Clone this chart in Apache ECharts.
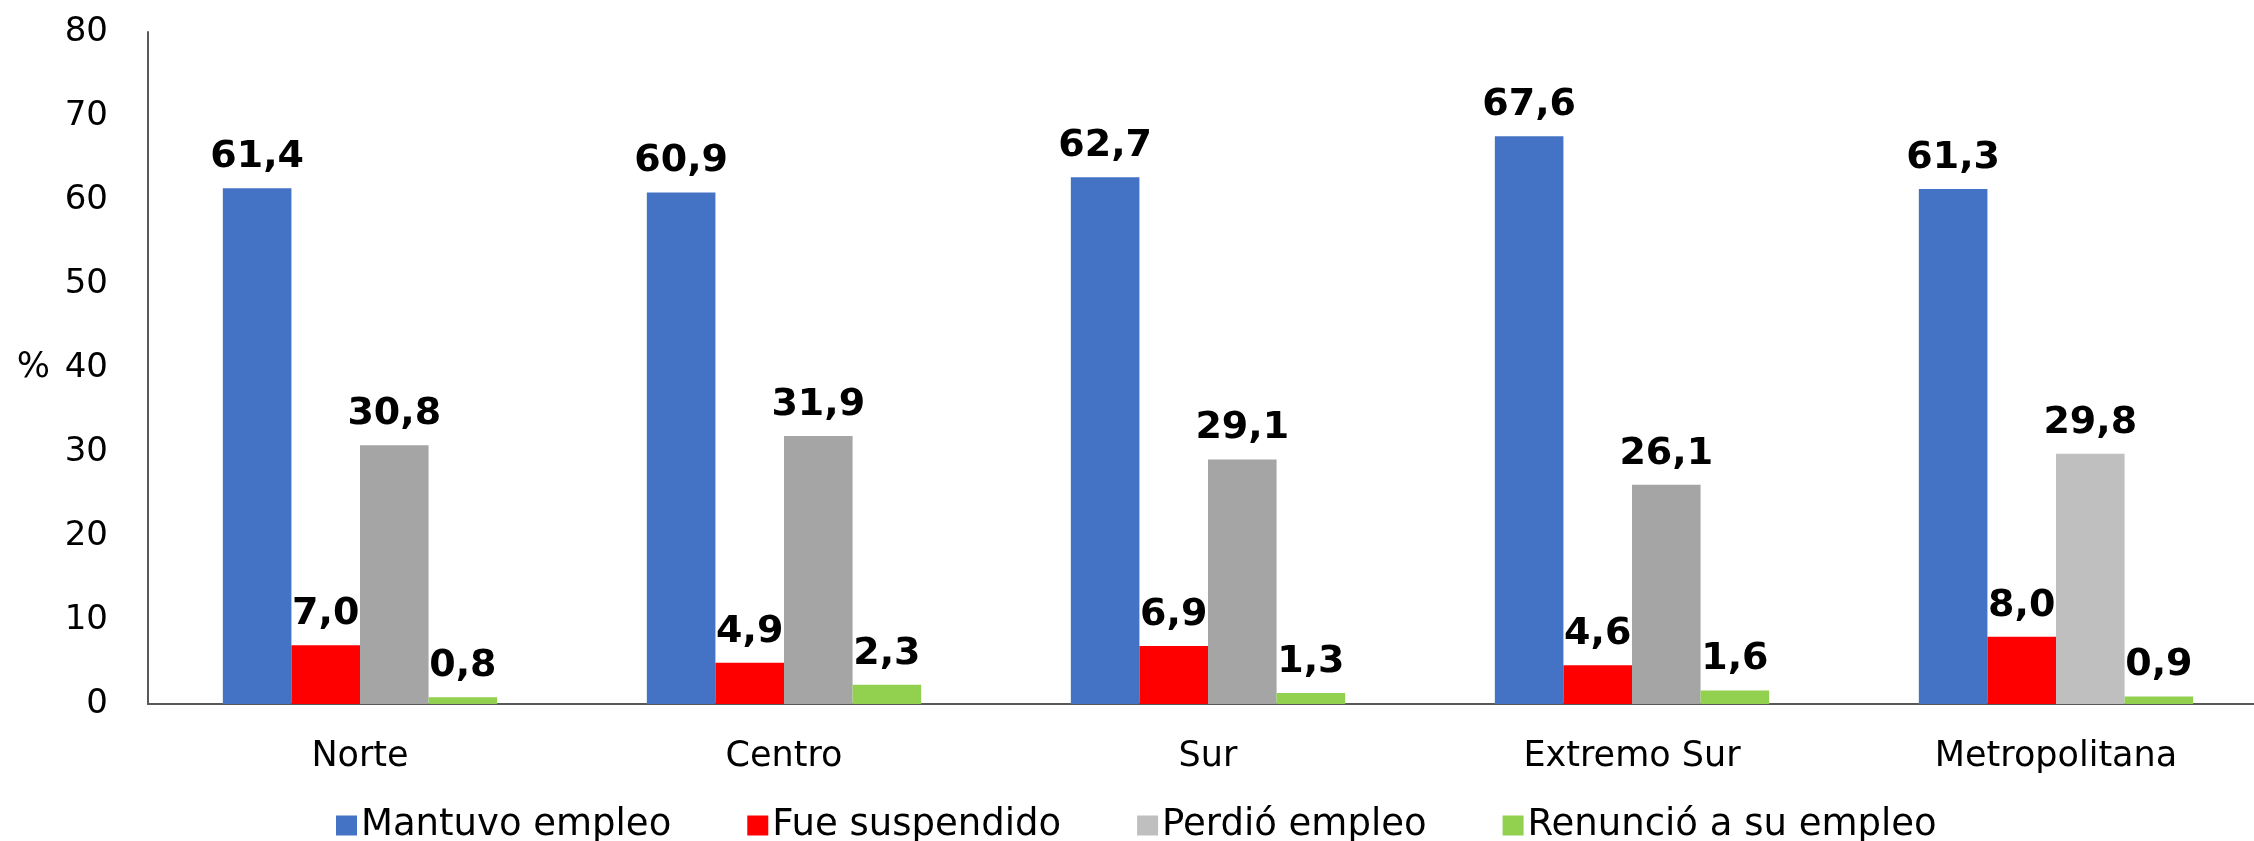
<!DOCTYPE html>
<html>
<head>
<meta charset="utf-8">
<style>
  html, body { margin: 0; padding: 0; background: #fff; }
  #chart { width: 2254px; height: 841px; }
</style>
<script src="https://cdn.jsdelivr.net/npm/echarts@6/dist/echarts.min.js"></script>
</head>
<body>
<div id="chart"></div>
<script>
const categories = ['Norte', 'Centro', 'Sur', 'Extremo Sur', 'Metropolitana']
const mantuvo = [61.4, 60.9, 62.7, 67.6, 61.3]
const suspendido = [7.0, 4.9, 6.9, 4.6, 8.0]
const perdio = [30.8, 31.9, 29.1, 26.1, 29.8]
const renuncio = [0.8, 2.3, 1.3, 1.6, 0.9]
const yTicks = [0, 10, 20, 30, 40, 50, 60, 70, 80]

const font = 'DejaVu Sans, Verdana, sans-serif'

const chart = echarts.init(document.getElementById('chart'))

const labelOpt = {
  show: true,
  position: 'top',
  distance: 12,
  color: '#000',
  fontFamily: font,
  fontWeight: 'bold',
  fontSize: 38,
  formatter: p => p.value.toFixed(1).replace('.', ',')
}

function bar(name, data, color) {
  return {
    name: name,
    type: 'bar',
    data: data,
    barGap: '0%',
    barCategoryGap: '35.3%',
    itemStyle: { color: color },
    label: labelOpt,
    animation: false
  }
}

// the last grey bar is lighter in the original
const perdioData = perdio.map((v, i) => i === 4 ? { value: v, itemStyle: { color: '#BFBFBF' } } : v)

chart.setOption({
  textStyle: { fontFamily: font },
  grid: {
    top: 32,
    bottom: 137,
    left: 148,
    right: -14,
    outerBoundsMode: 'none'
  },
  legend: {
    left: 331,
    bottom: -8,
    itemWidth: 21,
    itemHeight: 20,
    itemGap: 76,
    icon: 'rect',
    textStyle: { fontFamily: font, fontSize: 37, color: '#000', padding: [0, 0, 0, -1] },
    data: [
      { name: 'Mantuvo empleo' },
      { name: 'Fue suspendido' },
      { name: 'Perdió empleo', itemStyle: { color: '#BFBFBF' } },
      { name: 'Renunció a su empleo' }
    ]
  },
  xAxis: {
    type: 'category',
    data: categories,
    axisLine: { lineStyle: { color: '#595959', width: 2 } },
    axisTick: { show: false },
    axisLabel: { color: '#000', fontFamily: font, fontSize: 35, margin: 35 }
  },
  yAxis: {
    type: 'value',
    min: yTicks[0],
    max: yTicks[yTicks.length - 1],
    interval: 10,
    name: '%',
    nameLocation: 'middle',
    nameRotate: 0,
    nameGap: 98,
    nameTextStyle: { color: '#000', fontFamily: font, fontSize: 35 },
    axisLine: { show: true, lineStyle: { color: '#595959', width: 2 } },
    axisTick: { show: false },
    splitLine: { show: false },
    axisLabel: { color: '#000', fontFamily: font, fontSize: 34, margin: 40 }
  },
  series: [
    bar('Mantuvo empleo', mantuvo, '#4472C4'),
    bar('Fue suspendido', suspendido, '#FF0000'),
    bar('Perdió empleo', perdioData, '#A5A5A5'),
    bar('Renunció a su empleo', renuncio, '#92D050')
  ]
})
</script>
</body>
</html>
